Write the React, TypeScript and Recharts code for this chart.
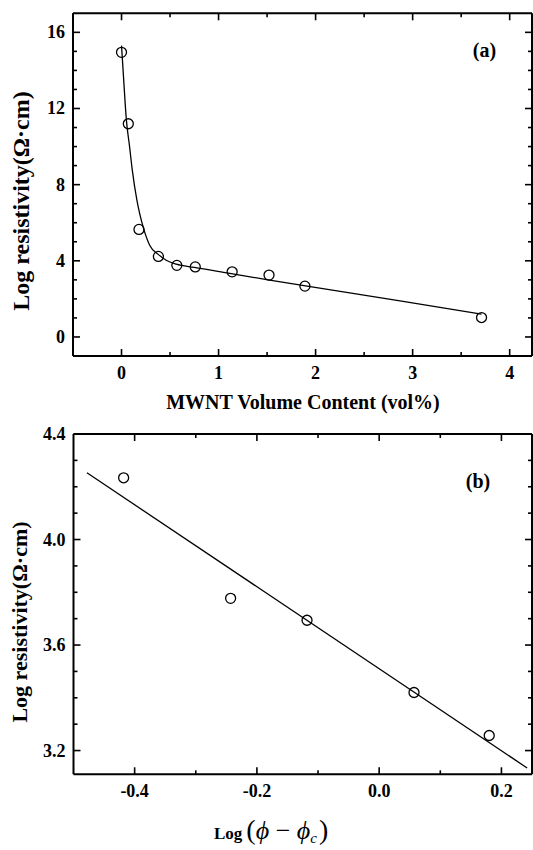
import { ComposedChart, Line, Scatter, XAxis, YAxis } from 'recharts';

// panel (a): measured points
const volA = [0, 0.07, 0.18, 0.38, 0.57, 0.76, 1.14, 1.52, 1.89, 3.71];
const resA = [14.95, 11.2, 5.65, 4.23, 3.76, 3.68, 3.42, 3.25, 2.67, 1.02];
// panel (a): fitted curve
const fitVolA = [0, 0.02, 0.05, 0.083, 0.11, 0.158, 0.186, 0.23, 0.29, 0.375, 0.46, 0.565, 0.75, 1.13, 1.51, 1.88, 2.87, 3.71];
const fitResA = [15.3, 13.7, 11.4, 10.0, 8.8, 7.2, 6.5, 5.65, 4.82, 4.35, 4.03, 3.82, 3.65, 3.33, 3.0, 2.7, 1.9, 1.2];

const xMajorA = [0, 1, 2, 3, 4];
const xMinorA = [-0.5, 0.5, 1.5, 2.5, 3.5];
const yMajorA = [0, 4, 8, 12, 16];
const yMinorA = [1, 2, 3, 5, 6, 7, 9, 10, 11, 13, 14, 15];

// panel (b)
const logPhiB = [-0.418, -0.243, -0.118, 0.057, 0.18];
const logResB = [4.234, 3.777, 3.694, 3.42, 3.257];
const fitPhiB = [-0.478, 0.242];
const fitResB = [4.253, 3.134];

const xMajorB = [-0.4, -0.2, 0, 0.2];
const xMinorB = [-0.3, -0.1, 0.1];
const yMajorB = [3.2, 3.6, 4.0, 4.4];
const yMinorB = [3.3, 3.4, 3.5, 3.7, 3.8, 3.9, 4.1, 4.2, 4.3];

const FONT = "'Liberation Serif', 'DejaVu Serif', serif";

const zip = (xs: number[], ys: number[]) => xs.map((x, i) => ({ x, y: ys[i] }));

type Side = 'bottom' | 'top' | 'left' | 'right';

function makeTick(side: Side, majors: number[], fmt: (v: number) => string) {
  return (props: any) => {
    const { x, y, payload } = props;
    const v = payload.value as number;
    const major = majors.some((m) => Math.abs(m - v) < 1e-6);
    const len = major ? 7 : 4;
    let line;
    let label = null;
    if (side === 'bottom') {
      line = <line x1={x} y1={y} x2={x} y2={y - len} />;
      if (major)
        label = (
          <text x={x} y={y + 23} textAnchor="middle">
            {fmt(v)}
          </text>
        );
    } else if (side === 'top') {
      line = <line x1={x} y1={y} x2={x} y2={y + len} />;
    } else if (side === 'left') {
      line = <line x1={x} y1={y} x2={x + len} y2={y} />;
      if (major)
        label = (
          <text x={x - 8} y={y + 6} textAnchor="end">
            {fmt(v)}
          </text>
        );
    } else {
      line = <line x1={x} y1={y} x2={x - len} y2={y} />;
    }
    return (
      <g>
        <g stroke="#000" strokeWidth={1.6}>{line}</g>
        {label && (
          <g style={{ fontFamily: FONT, fontWeight: 'bold', fontSize: 18, fill: '#000' }}>{label}</g>
        )}
      </g>
    );
  };
}

function Circle(props: any) {
  return <circle cx={props.cx} cy={props.cy} r={5} fill="none" stroke="#000" strokeWidth={1.3} />;
}

const axisLine = { stroke: '#000', strokeWidth: 2 };

type Props = {
  points: { x: number; y: number }[];
  fit: { x: number; y: number }[];
  xDomain: [number, number];
  yDomain: [number, number];
  xTicks: number[];
  yTicks: number[];
  xMajor: number[];
  yMajor: number[];
  xFmt: (v: number) => string;
  yFmt: (v: number) => string;
  margin: { top: number; right: number; bottom: number; left: number };
  xHeight: number;
  curveType: 'monotone' | 'linear';
};

function Panel(p: Props) {
  return (
    <ComposedChart width={533} height={425} margin={p.margin}>
      <XAxis
        xAxisId={0}
        dataKey="x"
        type="number"
        domain={p.xDomain}
        allowDataOverflow
        ticks={p.xTicks}
        interval={0}
        height={p.xHeight}
        tickSize={0}
        tickMargin={0}
        axisLine={axisLine}
        tickLine={false}
        tick={makeTick('bottom', p.xMajor, p.xFmt)}
      />
      <XAxis
        xAxisId="top"
        orientation="top"
        dataKey="x"
        type="number"
        domain={p.xDomain}
        allowDataOverflow
        ticks={p.xTicks}
        interval={0}
        height={1}
        tickSize={0}
        tickMargin={0}
        axisLine={axisLine}
        tickLine={false}
        tick={makeTick('top', p.xMajor, p.xFmt)}
      />
      <YAxis
        yAxisId={0}
        type="number"
        domain={p.yDomain}
        allowDataOverflow
        ticks={p.yTicks}
        interval={0}
        width={60}
        tickSize={0}
        tickMargin={0}
        axisLine={axisLine}
        tickLine={false}
        tick={makeTick('left', p.yMajor, p.yFmt)}
      />
      <YAxis
        yAxisId="right"
        orientation="right"
        type="number"
        domain={p.yDomain}
        allowDataOverflow
        ticks={p.yTicks}
        interval={0}
        width={1}
        tickSize={0}
        tickMargin={0}
        axisLine={axisLine}
        tickLine={false}
        tick={makeTick('right', p.yMajor, p.yFmt)}
      />
      <Line
        data={p.fit}
        dataKey="y"
        type={p.curveType}
        stroke="#000"
        strokeWidth={1.3}
        dot={false}
        activeDot={false}
        isAnimationActive={false}
      />
      <Scatter data={p.points} dataKey="y" shape={Circle} isAnimationActive={false} />
    </ComposedChart>
  );
}

const sorted = (a: number[], b: number[]) => [...a, ...b].sort((m, n) => m - n);

const overlay: React.CSSProperties = {
  position: 'absolute',
  left: 0,
  top: 0,
  pointerEvents: 'none',
  fontFamily: FONT,
  fontWeight: 'bold',
  fill: '#000',
};

export default function App() {
  return (
    <div
      style={{
        position: 'absolute',
        left: 0,
        top: 0,
        width: 533,
        height: 850,
        background: '#fff',
      }}
    >
      <div style={{ position: 'absolute', left: 0, top: 0, width: 533, height: 425 }}>
        <Panel
          points={zip(volA, resA)}
          fit={zip(fitVolA, fitResA)}
          xDomain={[-0.5, 4.23]}
          yDomain={[-1, 17]}
          xTicks={sorted(xMajorA, xMinorA)}
          yTicks={sorted(yMajorA, yMinorA)}
          xMajor={xMajorA}
          yMajor={yMajorA}
          xFmt={(v) => String(v)}
          yFmt={(v) => String(v)}
          margin={{ top: 12.3, right: 0, bottom: 0, left: 13 }}
          xHeight={69}
          curveType="monotone"
        />
        <svg width={533} height={425} style={overlay}>
          <text transform="translate(29,201) rotate(-90)" textAnchor="middle" style={{ fontSize: 24 }}>
            Log resistivity(Ω·cm)
          </text>
          <text x={303} y={409} textAnchor="middle" style={{ fontSize: 20 }}>
            MWNT Volume Content (vol%)
          </text>
          <text x={484.5} y={57} textAnchor="middle" style={{ fontSize: 20 }}>
            (a)
          </text>
        </svg>
      </div>
      <div style={{ position: 'absolute', left: 0, top: 425, width: 533, height: 425 }}>
        <Panel
          points={zip(logPhiB, logResB)}
          fit={zip(fitPhiB, fitResB)}
          xDomain={[-0.5, 0.25]}
          yDomain={[3.11, 4.4]}
          xTicks={sorted(xMajorB, xMinorB)}
          yTicks={sorted(yMajorB, yMinorB)}
          xMajor={xMajorB}
          yMajor={yMajorB}
          xFmt={(v) => v.toFixed(1)}
          yFmt={(v) => v.toFixed(1)}
          margin={{ top: 8, right: 0, bottom: 0, left: 13.5 }}
          xHeight={75.7}
          curveType="linear"
        />
        <svg width={533} height={425} style={overlay}>
          <text transform="translate(27,197) rotate(-90)" textAnchor="middle" style={{ fontSize: 22 }}>
            Log resistivity(Ω·cm)
          </text>
          <text x={214} y={414}>
            <tspan style={{ fontSize: 17 }}>Log</tspan>
            <tspan style={{ fontSize: 28, fontWeight: 'normal' }} dx={4}>(</tspan>
            <tspan style={{ fontSize: 26, fontWeight: 'normal', fontStyle: 'italic' }}>ϕ</tspan>
            <tspan style={{ fontSize: 26, fontWeight: 'normal' }}> − </tspan>
            <tspan style={{ fontSize: 26, fontWeight: 'normal', fontStyle: 'italic' }}>ϕ</tspan>
            <tspan style={{ fontSize: 15, fontWeight: 'normal', fontStyle: 'italic' }} dy={4}>c</tspan>
            <tspan style={{ fontSize: 28, fontWeight: 'normal' }} dy={-4} dx={2}>)</tspan>
          </text>
          <text x={478} y={63} textAnchor="middle" style={{ fontSize: 20 }}>
            (b)
          </text>
        </svg>
      </div>
    </div>
  );
}
